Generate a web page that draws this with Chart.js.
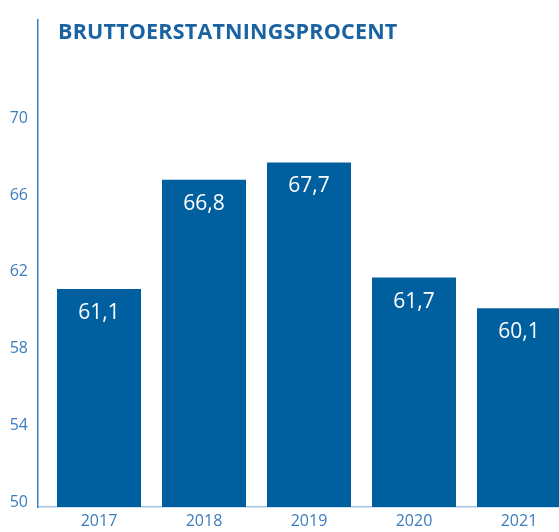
<!DOCTYPE html>
<html>
<head>
<meta charset="utf-8">
<script src="https://cdn.jsdelivr.net/npm/chart.js@4.4.1/dist/chart.umd.min.js"></script>
<style>
  html, body { margin: 0; padding: 0; background: #fff; overflow: hidden; }
  #wrap { position: relative; width: 559px; height: 532px; }
  #title {
    position: absolute; left: 58px; top: 16px;
    font-family: "Open Sans", sans-serif; font-weight: 700; font-size: 21.5px;
    color: #1a63a3; letter-spacing: 0.2px; white-space: nowrap;
  }
</style>
</head>
<body>
<div id="wrap">
  <canvas id="chart" width="559" height="532"></canvas>
  <div id="title">BRUTTOERSTATNINGSPROCENT</div>
</div>
<script>
// Chart data
const years = ['2017', '2018', '2019', '2020', '2021'];
const grossRate = [61.1, 66.8, 67.7, 61.7, 60.1];
const yTicks = [50, 54, 58, 62, 66, 70];

const barColor = '#00609f';
const tickColor = '#3a7dbd';

// Draw the values inside the top of each bar
const valueLabels = {
  id: 'valueLabels',
  afterDatasetsDraw(chart) {
    const ctx = chart.ctx;
    const meta = chart.getDatasetMeta(0);
    ctx.save();
    ctx.fillStyle = '#ffffff';
    ctx.font = '21px "Open Sans", sans-serif';
    ctx.textAlign = 'center';
    ctx.textBaseline = 'middle';
    meta.data.forEach((bar, i) => {
      const text = grossRate[i].toFixed(1).replace('.', ',');
      ctx.fillText(text, bar.x, bar.y + 24);
    });
    ctx.restore();
  }
};

new Chart(document.getElementById('chart'), {
  type: 'bar',
  data: {
    datasets: [{
      data: grossRate.map((v, i) => ({ x: i, y: v })),
      backgroundColor: barColor,
      borderWidth: 0,
      categoryPercentage: 0.8,
      barPercentage: 1
    }]
  },
  options: {
    responsive: false,
    animation: false,
    layout: { padding: { top: 14, right: 0, left: 0, bottom: 0 } },
    plugins: {
      legend: { display: false },
      tooltip: { enabled: false }
    },
    scales: {
      x: {
        type: 'linear',
        offset: false,
        min: -0.581,
        max: 4.381,
        afterBuildTicks: scale => {
          scale.ticks = years.map((_, i) => ({ value: i }));
        },
        afterFit: scale => { scale.height = 25; },
        grid: { drawOnChartArea: false, drawTicks: false, offset: false },
        border: { display: true, color: '#a8c6e6', width: 1.5 },
        ticks: {
          color: tickColor,
          padding: 5,
          font: { family: '"Open Sans", sans-serif', size: 16 },
          callback: v => years[v]
        }
      },
      y: {
        min: 49.74,
        max: 75.15,
        afterBuildTicks: scale => {
          scale.ticks = yTicks.map(v => ({ value: v }));
        },
        afterFit: scale => { scale.width = 38; },
        grid: { drawOnChartArea: false, drawTicks: false },
        border: { display: true, color: '#3a80c4', width: 1.5 },
        ticks: {
          color: tickColor,
          padding: 10,
          font: { family: '"Open Sans", sans-serif', size: 16 }
        }
      }
    }
  },
  plugins: [valueLabels]
});
</script>
</body>
</html>
